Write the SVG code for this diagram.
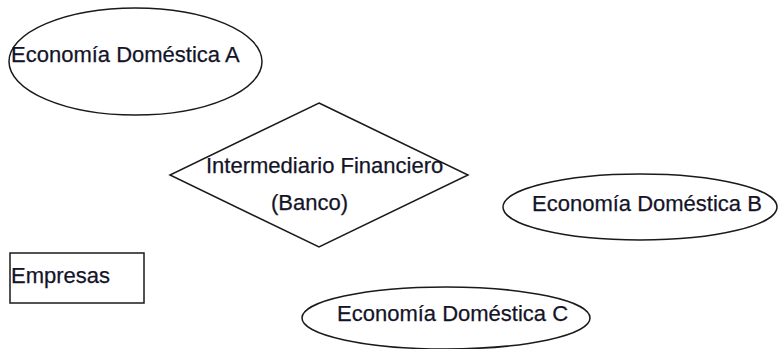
<svg xmlns="http://www.w3.org/2000/svg" width="779" height="349" viewBox="0 0 779 349">
<style>
.shape{fill:none;stroke:#1a1a1a;stroke-width:1.5}
.lbl{font-family:"Liberation Sans",Arial,sans-serif;font-size:22px;fill:#141428;stroke:#141428;stroke-width:0.25}
</style>
<rect width="779" height="349" fill="#fff"/>
<g id="connectors"></g>
<g id="economia-a">
<ellipse class="shape" cx="135.5" cy="61.5" rx="126.5" ry="53.5"/>
<text class="lbl" x="11" y="62">Economía Doméstica A</text>
</g>
<g id="intermediario">
<polygon class="shape" points="319,103 468,175 319,247 170,175"/>
<text class="lbl" x="206" y="173">Intermediario Financiero</text>
<text class="lbl" x="271" y="210">(Banco)</text>
</g>
<g id="economia-b">
<ellipse class="shape" cx="640" cy="207" rx="137" ry="33"/>
<text class="lbl" x="532" y="211">Economía Doméstica B</text>
</g>
<g id="empresas">
<rect class="shape" x="10" y="253" width="134" height="50" stroke-width="1.7"/>
<text class="lbl" x="11" y="283">Empresas</text>
</g>
<g id="economia-c">
<ellipse class="shape" cx="446" cy="318" rx="144" ry="31"/>
<text class="lbl" x="337" y="321">Economía Doméstica C</text>
</g>
</svg>
